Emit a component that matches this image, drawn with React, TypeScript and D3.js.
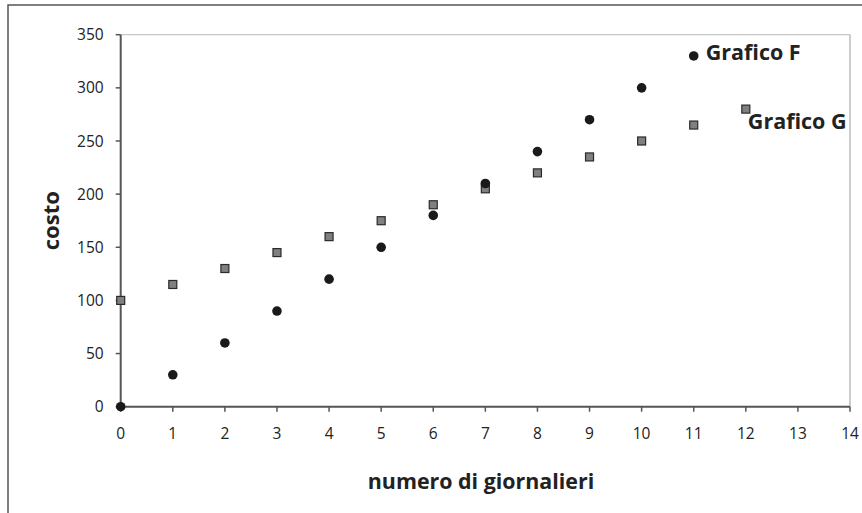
import React from "react";
import * as d3 from "d3";

const xTicks = [0, 1, 2, 3, 4, 5, 6, 7, 8, 9, 10, 11, 12, 13, 14];
const yTicks = [0, 50, 100, 150, 200, 250, 300, 350];
const giorniF = [0, 1, 2, 3, 4, 5, 6, 7, 8, 9, 10, 11];
const costoF = [0, 30, 60, 90, 120, 150, 180, 210, 240, 270, 300, 330];
const giorniG = [0, 1, 2, 3, 4, 5, 6, 7, 8, 9, 10, 11, 12];
const costoG = [100, 115, 130, 145, 160, 175, 190, 205, 220, 235, 250, 265, 280];
const labelF = "Grafico F";
const labelG = "Grafico G";
const xTitle = "numero di giornalieri";
const yTitle = "costo";

const W = 862;
const H = 513;
const L = 120.7, R = 850, T = 34.7, B = 406.7;
const FONT = "'Open Sans', sans-serif";

export default function App() {
  const x = d3.scaleLinear().domain([0, 14]).range([L, R]);
  const y = d3.scaleLinear().domain([0, 350]).range([B, T]);
  const axisColor = "#555";
  const textColor = "#222";
  return (
    <svg width={W} height={H} style={{ position: "fixed", left: 0, top: 0, background: "#fff" }}>
      <rect x={0} y={0} width={W} height={H} fill="#fff" />
      <rect x={8} y={5} width={W + 20} height={H + 20} fill="none" stroke="#555" strokeWidth={1.5} />
      <line x1={L} x2={R} y1={T} y2={T} stroke="#bbb" strokeWidth={1} />
      <line x1={R} x2={R} y1={T} y2={B} stroke="#bbb" strokeWidth={1.5} />
      <line x1={L} x2={L} y1={T} y2={B} stroke={axisColor} strokeWidth={2} />
      <line x1={L} x2={R} y1={B} y2={B} stroke={axisColor} strokeWidth={2} />
      {yTicks.map((t) => (
        <g key={"y" + t}>
          <line x1={L - 5} x2={L} y1={y(t)} y2={y(t)} stroke={axisColor} strokeWidth={1.5} />
          <text x={L - 17} y={y(t)} dy="0.36em" textAnchor="end" fontFamily={FONT} fontSize={15.5} fill={textColor}>
            {t}
          </text>
        </g>
      ))}
      {xTicks.map((t) => (
        <g key={"x" + t}>
          <line x1={x(t)} x2={x(t)} y1={B} y2={B + 5} stroke={axisColor} strokeWidth={1.5} />
          <text x={x(t)} y={B + 32} textAnchor="middle" fontFamily={FONT} fontSize={15.5} fill={textColor}>
            {t}
          </text>
        </g>
      ))}
      <text
        x={481}
        y={489}
        textAnchor="middle"
        fontFamily={FONT}
        fontWeight="bold"
        fontSize={21.4}
        fill={textColor}
      >
        {xTitle}
      </text>
      <text
        transform={`translate(59, ${(T + B) / 2}) rotate(-90)`}
        textAnchor="middle"
        fontFamily={FONT}
        fontWeight="bold"
        fontSize={22}
        fill={textColor}
      >
        {yTitle}
      </text>
      {giorniG.map((d, i) => (
        <rect
          key={"g" + i}
          x={x(d) - 4}
          y={y(costoG[i]) - 4}
          width={8}
          height={8}
          fill="#808080"
          stroke="#2a2a2a"
          strokeWidth={1.2}
        />
      ))}
      {giorniF.map((d, i) => (
        <circle key={"f" + i} cx={x(d)} cy={y(costoF[i])} r={4.8} fill="#1a1a1a" />
      ))}
      <text
        x={x(11) + 12}
        y={y(330) + 4}
        fontFamily={FONT}
        fontWeight="bold"
        fontSize={21.5}
        fill={textColor}
      >
        {labelF}
      </text>
      <text
        x={x(12) + 2}
        y={y(280) + 20}
        fontFamily={FONT}
        fontWeight="bold"
        fontSize={21.5}
        fill={textColor}
      >
        {labelG}
      </text>
    </svg>
  );
}
